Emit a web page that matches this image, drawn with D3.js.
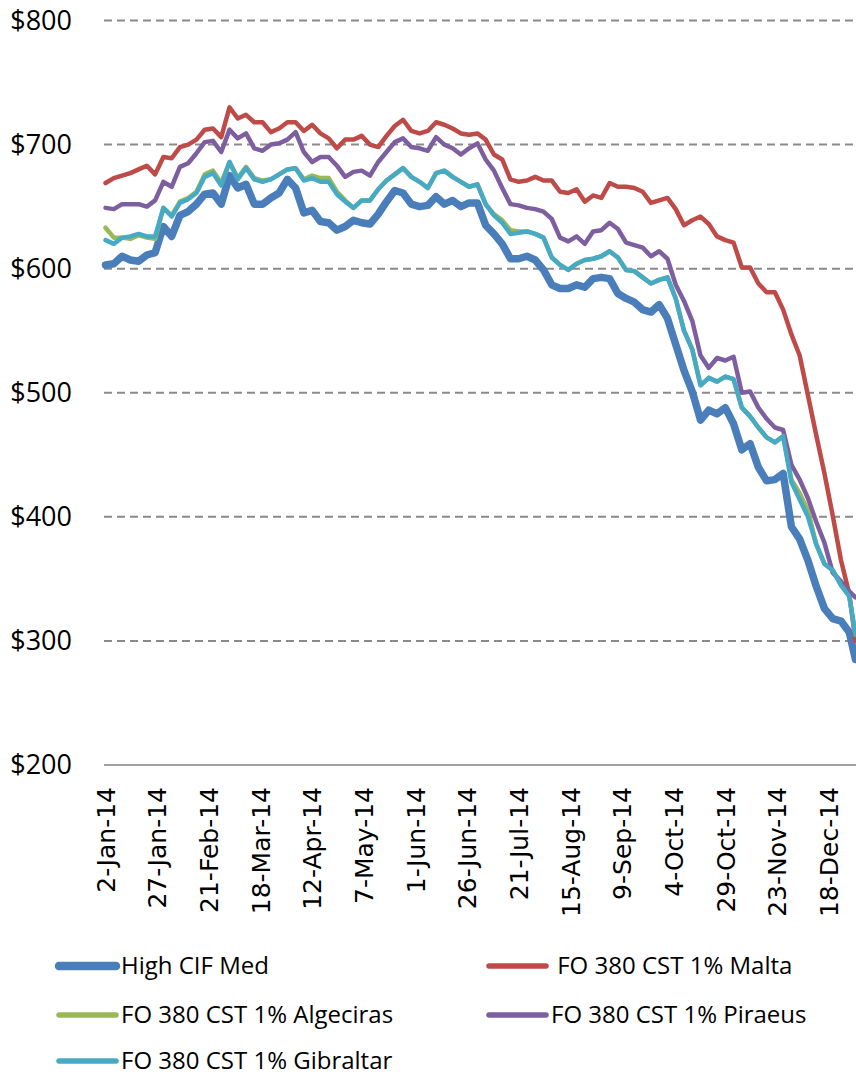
<!DOCTYPE html>
<html>
<head>
<meta charset="utf-8">
<script src="https://cdnjs.cloudflare.com/ajax/libs/d3/7.8.5/d3.min.js"></script>
<style>
body { margin: 0; background: #fff; }
</style>
</head>
<body>
<script>
"use strict";

// sample dates (every 4 days) shared by all series
let dates = [
    '2014-01-02','2014-01-06','2014-01-10','2014-01-14','2014-01-18','2014-01-22','2014-01-26','2014-01-30',
    '2014-02-03','2014-02-07','2014-02-11','2014-02-15','2014-02-19','2014-02-23','2014-02-27',
    '2014-03-03','2014-03-07','2014-03-11','2014-03-15','2014-03-19','2014-03-23','2014-03-27','2014-03-31',
    '2014-04-04','2014-04-08','2014-04-12','2014-04-16','2014-04-20','2014-04-24','2014-04-28',
    '2014-05-02','2014-05-06','2014-05-10','2014-05-14','2014-05-18','2014-05-22','2014-05-26','2014-05-30',
    '2014-06-03','2014-06-07','2014-06-11','2014-06-15','2014-06-19','2014-06-23','2014-06-27',
    '2014-07-01','2014-07-05','2014-07-09','2014-07-13','2014-07-17','2014-07-21','2014-07-25','2014-07-29',
    '2014-08-02','2014-08-06','2014-08-10','2014-08-14','2014-08-18','2014-08-22','2014-08-26','2014-08-30',
    '2014-09-03','2014-09-07','2014-09-11','2014-09-15','2014-09-19','2014-09-23','2014-09-27',
    '2014-10-01','2014-10-05','2014-10-09','2014-10-13','2014-10-17','2014-10-21','2014-10-25','2014-10-29',
    '2014-11-02','2014-11-06','2014-11-10','2014-11-14','2014-11-18','2014-11-22','2014-11-26','2014-11-30',
    '2014-12-04','2014-12-08','2014-12-12','2014-12-16','2014-12-20','2014-12-24','2014-12-28','2014-12-31'
];

let highCifMed = [
    603,604,610,607,606,611,613,634,626,643,
    646,652,660,661,652,675,665,668,652,652,
    657,661,672,665,645,647,638,637,631,634,
    639,637,636,644,654,663,661,652,650,651,
    658,652,655,650,653,653,635,628,620,608,
    608,610,607,599,587,584,584,587,585,592,
    593,592,580,576,573,567,565,571,560,539,
    518,501,478,486,483,488,475,454,459,440,
    429,430,435,392,382,365,344,326,318,316,
    307,285
];

let malta = [
    669,673,675,677,680,683,676,690,689,698,
    700,704,712,713,706,730,721,724,718,718,
    710,713,718,718,711,716,709,705,697,704,
    704,707,700,698,707,715,720,711,709,711,
    718,716,713,709,708,709,704,692,688,672,
    670,671,674,671,671,662,661,664,654,659,
    657,669,666,666,665,662,653,655,657,648,
    635,639,642,636,626,623,621,601,601,588,
    581,581,567,547,530,498,466,435,401,365,
    338,300
];

let algeciras = [
    633,625,625,624,627,625,624,649,643,654,
    657,662,676,679,669,686,673,682,673,671,
    672,676,680,681,672,675,673,673,662,655,
    649,655,655,664,671,676,681,674,670,665,
    677,679,674,670,666,668,652,644,639,631,
    630,630,628,625,609,603,599,604,607,608,
    610,614,609,599,598,593,588,591,593,576,
    550,535,506,512,509,513,511,488,481,472,
    464,460,465,430,419,405,378,362,357,345,
    336,305
];

let piraeus = [
    649,648,652,652,652,650,655,670,666,682,
    685,693,702,703,694,712,705,709,697,695,
    700,701,704,710,694,686,690,690,683,674,
    678,679,675,686,694,702,705,698,697,695,
    706,700,697,692,697,701,688,679,665,652,
    651,649,648,646,640,625,622,626,620,630,
    631,637,632,621,619,617,610,614,608,587,
    574,558,530,520,528,526,529,500,501,488,
    479,472,470,442,430,415,396,379,355,348,
    340,335
];

let gibraltar = [
    623,620,625,626,628,626,626,649,642,653,
    656,661,674,677,667,686,672,681,672,670,
    672,676,680,681,671,673,670,670,660,654,
    649,655,655,664,671,676,681,674,670,665,
    677,679,674,670,666,668,652,643,637,628,
    629,630,628,625,609,603,599,604,607,608,
    610,614,609,599,598,593,588,591,593,576,
    550,535,506,512,509,513,511,488,481,472,
    464,460,465,428,414,400,378,362,357,345,
    336,305
];

let yTicks = [200, 300, 400, 500, 600, 700, 800];
let xTickDates = [
    '2014-01-02','2014-01-27','2014-02-21','2014-03-18','2014-04-12','2014-05-07','2014-06-01',
    '2014-06-26','2014-07-21','2014-08-15','2014-09-09','2014-10-04','2014-10-29','2014-11-23','2014-12-18'
];

(function() {

let width = 856;
let height = 1079;
let plot = {left: 104, right: 857, top: 20.5, bottom: 765};

let parseDate = d3.timeParse('%Y-%m-%d');

let svg = d3.select('body')
    .append('svg')
    .attr('width', width)
    .attr('height', height);

let x = d3.scaleTime()
    .domain([new Date(2014, 0, 1, 6), new Date(2014, 11, 31, 18)])
    .range([plot.left, plot.right]);

let y = d3.scaleLinear()
    .domain([200, 800])
    .range([plot.bottom, plot.top]);

// dashed gridlines
svg.append('g')
    .selectAll('line')
    .data(yTicks.filter(function(d) { return d > 200; }))
    .enter()
    .append('line')
    .attr('x1', plot.left)
    .attr('x2', width)
    .attr('y1', function(d) { return y(d); })
    .attr('y2', function(d) { return y(d); })
    .attr('stroke', '#8a8a8a')
    .attr('stroke-width', 2)
    .attr('stroke-dasharray', '8,5');

// bottom axis line
svg.append('line')
    .attr('x1', plot.left)
    .attr('x2', width)
    .attr('y1', y(200))
    .attr('y2', y(200))
    .attr('stroke', '#a0a0a0')
    .attr('stroke-width', 2);

// y axis labels
let yAxis = svg.append('g')
    .attr('transform', 'translate(' + plot.left + ',0)')
    .call(d3.axisLeft(y).tickValues(yTicks).tickFormat(function(d) { return '$' + d; }).tickSize(0).tickPadding(32));
yAxis.select('.domain').remove();
yAxis.selectAll('text')
    .attr('font-family', '"Open Sans", sans-serif')
    .attr('font-size', 27)
    .attr('fill', '#000');

// x axis labels, rotated
let xAxis = svg.append('g')
    .attr('transform', 'translate(0,' + plot.bottom + ')')
    .call(d3.axisBottom(x).tickValues(xTickDates.map(parseDate)).tickFormat(d3.timeFormat('%-d-%b-%y')).tickSize(0));
xAxis.select('.domain').remove();
xAxis.selectAll('text')
    .attr('transform', 'rotate(-90)')
    .attr('text-anchor', 'end')
    .attr('x', -22)
    .attr('y', 0)
    .attr('dy', '0.35em')
    .attr('font-family', '"DejaVu Sans", sans-serif')
    .attr('font-size', 25)
    .attr('fill', '#000');

let series = [
    {name: 'High CIF Med', values: highCifMed, color: '#4a7ebb', width: 7.5},
    {name: ' FO 380 CST 1% Malta', values: malta, color: '#be4b48', width: 4.5},
    {name: 'FO 380 CST 1% Algeciras', values: algeciras, color: '#98b954', width: 4.5},
    {name: 'FO 380 CST 1% Piraeus', values: piraeus, color: '#7d5fa0', width: 4.5},
    {name: 'FO 380 CST 1% Gibraltar', values: gibraltar, color: '#46aac5', width: 4.5}
];

let parsedDates = dates.map(parseDate);

let line = d3.line()
    .x(function(d) { return x(d.date); })
    .y(function(d) { return y(d.value); });

svg.append('g')
    .selectAll('path')
    .data(series)
    .enter()
    .append('path')
    .attr('d', function(s) {
        return line(s.values.map(function(v, i) { return {date: parsedDates[i], value: v}; }));
    })
    .attr('fill', 'none')
    .attr('stroke', function(s) { return s.color; })
    .attr('stroke-width', function(s) { return s.width; })
    .attr('stroke-linejoin', 'round')
    .attr('stroke-linecap', 'round');

// legend
let legendPos = [
    {lx: 59, ly: 966}, {lx: 489, ly: 966},
    {lx: 59, ly: 1015}, {lx: 489, ly: 1015},
    {lx: 59, ly: 1061}
];

let legend = svg.append('g')
    .selectAll('g')
    .data(series)
    .enter()
    .append('g')
    .attr('transform', function(s, i) { return 'translate(' + legendPos[i].lx + ',' + legendPos[i].ly + ')'; });

legend.append('line')
    .attr('x1', 0)
    .attr('x2', 57)
    .attr('stroke', function(s) { return s.color; })
    .attr('stroke-width', function(s) { return s.width + 1; })
    .attr('stroke-linecap', 'round');

legend.append('text')
    .attr('x', 62)
    .attr('dy', '0.35em')
    .style('white-space', 'pre')
    .attr('font-family', '"Open Sans", sans-serif')
    .attr('font-size', 24)
    .attr('fill', '#000')
    .text(function(s) { return s.name; });

})();
</script>
</body>
</html>
